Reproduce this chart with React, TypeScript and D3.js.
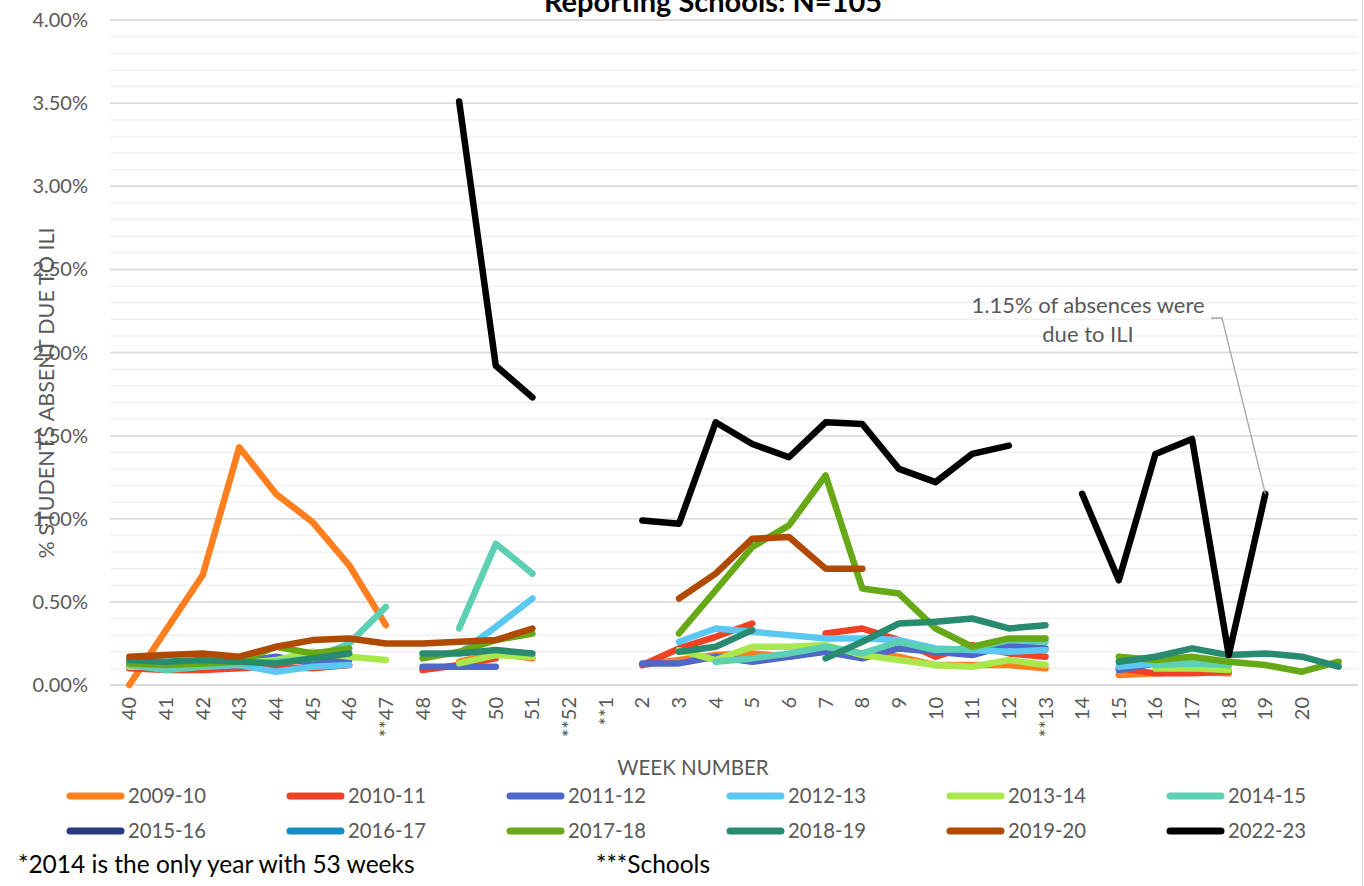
import React, { useEffect, useRef } from "react";
import * as d3 from "d3";

const _ = null;

// week labels along the x axis (last slot has no label)
const weekLabels = [
  "40", "41", "42", "43", "44", "45", "46", "**47", "48", "49", "50", "51",
  "**52", "**1", "2", "3", "4", "5", "6", "7", "8", "9", "10", "11", "12",
  "**13", "14", "15", "16", "17", "18", "19", "20", "",
];

const seasons = [
  "2009-10", "2010-11", "2011-12", "2012-13", "2013-14", "2014-15",
  "2015-16", "2016-17", "2017-18", "2018-19", "2019-20", "2022-23",
];

const seasonColors = [
  "#ff7f1f", "#f04025", "#4f67c9", "#5bc8f2", "#a8e84c", "#5dcfb2",
  "#283a80", "#118fc0", "#66a815", "#288a6f", "#b04a00", "#000000",
];

// % students absent due to ILI, one value per week slot
const s2009 = [0.0, 0.33, 0.66, 1.43, 1.15, 0.98, 0.72, 0.36, _, 0.14, 0.19, 0.16, _, _, 0.12, 0.15, 0.18, 0.19, 0.17, 0.21, 0.19, 0.17, 0.12, 0.12, 0.12, 0.1, _, 0.06, 0.07, 0.08, 0.07, _, _, _];
const s2010 = [0.1, 0.09, 0.09, 0.1, 0.11, 0.1, 0.12, _, 0.09, 0.12, 0.16, _, _, _, 0.12, 0.22, 0.29, 0.37, _, 0.31, 0.34, 0.27, 0.17, 0.24, 0.19, 0.17, _, 0.1, 0.07, 0.07, 0.08, _, _, _];
const s2011 = [0.12, 0.12, 0.13, 0.14, 0.17, 0.13, 0.15, _, 0.11, 0.11, 0.11, _, _, _, 0.13, 0.13, 0.17, 0.14, 0.17, 0.2, 0.16, 0.22, 0.2, 0.18, 0.24, 0.22, _, 0.09, 0.13, 0.16, 0.12, _, _, _];
const s2012 = [0.13, 0.11, 0.11, 0.12, 0.08, 0.11, 0.12, _, _, 0.19, 0.35, 0.52, _, _, _, 0.26, 0.34, 0.32, 0.3, 0.28, 0.28, 0.27, 0.22, 0.21, 0.2, 0.21, _, 0.11, 0.13, 0.14, 0.12, _, _, _];
const s2013 = [0.11, 0.11, 0.12, 0.13, 0.15, 0.2, 0.17, 0.15, _, 0.13, 0.18, 0.17, _, _, _, 0.21, 0.15, 0.23, 0.23, 0.24, 0.18, 0.15, 0.12, 0.11, 0.15, 0.12, _, _, 0.1, 0.1, 0.09, _, _, _];
const s2014 = [0.12, 0.09, 0.11, 0.13, 0.14, 0.16, 0.25, 0.47, _, 0.34, 0.85, 0.67, _, _, _, _, 0.14, 0.16, 0.19, 0.23, 0.19, 0.26, 0.21, 0.22, 0.27, 0.26, _, _, 0.12, 0.13, 0.12, _, _, _];
const s2015 = [_, _, _, _, _, _, _, _, _, _, _, _, _, _, _, _, _, _, _, _, _, _, _, _, _, _, _, _, _, _, _, _, _, _];
const s2016 = [_, _, _, _, _, _, _, _, _, _, _, _, _, _, _, _, _, _, _, _, _, _, _, _, _, _, _, _, _, _, _, _, _, _];
const s2017 = [0.13, 0.12, 0.13, 0.14, 0.23, 0.19, 0.22, _, 0.16, 0.2, 0.27, 0.31, _, _, _, 0.31, 0.57, 0.83, 0.96, 1.26, 0.58, 0.55, 0.34, 0.23, 0.28, 0.28, _, 0.17, 0.15, 0.17, 0.14, 0.12, 0.08, 0.14];
const s2018 = [0.15, 0.14, 0.15, 0.14, 0.13, 0.16, 0.19, _, 0.19, 0.19, 0.21, 0.19, _, _, _, 0.2, 0.23, 0.33, _, 0.16, 0.26, 0.37, 0.38, 0.4, 0.34, 0.36, _, 0.14, 0.17, 0.22, 0.18, 0.19, 0.17, 0.11];
const s2019 = [0.17, 0.18, 0.19, 0.17, 0.23, 0.27, 0.28, 0.25, 0.25, 0.26, 0.27, 0.34, _, _, _, 0.52, 0.67, 0.88, 0.89, 0.7, 0.7, _, _, _, _, _, _, _, _, _, _, _, _, _];
const s2022 = [_, _, _, _, _, _, _, _, _, 3.51, 1.92, 1.73, _, _, 0.99, 0.97, 1.58, 1.45, 1.37, 1.58, 1.57, 1.3, 1.22, 1.39, 1.44, _, 1.15, 0.63, 1.39, 1.48, 0.18, 1.15, _, _];

const seriesValues = [s2009, s2010, s2011, s2012, s2013, s2014, s2015, s2016, s2017, s2018, s2019, s2022];

const yTicks = [0, 0.5, 1, 1.5, 2, 2.5, 3, 3.5, 4];
const yMinor = d3.range(0, 4.01, 0.1);

const FONT = "Lato, 'Open Sans', sans-serif";
const GREY = "#595959";

export default function App() {
  const ref = useRef<SVGSVGElement>(null);

  useEffect(() => {
    const svg = d3.select(ref.current);
    svg.selectAll("*").remove();

    const left = 111;
    const right = 1357;
    const top = 20;
    const bottom = 685;

    const x = d3
      .scaleBand<number>()
      .domain(d3.range(weekLabels.length))
      .range([left, right]);
    const cx = (i: number) => (x(i) as number) + x.bandwidth() / 2;

    const y = d3.scaleLinear().domain([0, 4]).range([bottom, top]);

    // gridlines
    svg
      .append("g")
      .selectAll("line")
      .data(yMinor)
      .enter()
      .append("line")
      .attr("x1", left - 1)
      .attr("x2", right + 1)
      .attr("y1", (d) => y(d))
      .attr("y2", (d) => y(d))
      .attr("stroke", "#f0f0f0")
      .attr("stroke-width", 1.5);

    svg
      .append("g")
      .selectAll("line")
      .data(yTicks)
      .enter()
      .append("line")
      .attr("x1", left - 1)
      .attr("x2", right + 1)
      .attr("y1", (d) => y(d))
      .attr("y2", (d) => y(d))
      .attr("stroke", "#d9d9d9")
      .attr("stroke-width", (d) => (d === 0 ? 2 : 1.5));

    // chart border on the right
    svg
      .append("line")
      .attr("x1", 1362.5)
      .attr("x2", 1362.5)
      .attr("y1", 0)
      .attr("y2", 886)
      .attr("stroke", "#d9d9d9");

    // y tick labels
    svg
      .append("g")
      .selectAll("text")
      .data(yTicks)
      .enter()
      .append("text")
      .attr("x", 88)
      .attr("y", (d) => y(d))
      .attr("dy", "0.35em")
      .attr("text-anchor", "end")
      .attr("font-family", FONT)
      .attr("font-size", 20)
      .attr("fill", GREY)
      .text((d) => d3.format(".2f")(d) + "%");

    // x tick labels
    svg
      .append("g")
      .selectAll("text")
      .data(weekLabels)
      .enter()
      .append("text")
      .attr("transform", (_d, i) => `translate(${cx(i)},697) rotate(-90)`)
      .attr("dy", "0.35em")
      .attr("text-anchor", "end")
      .attr("font-family", FONT)
      .attr("font-size", 20)
      .attr("fill", GREY)
      .text((d) => d);

    // axis titles
    svg
      .append("text")
      .attr("transform", `translate(54,${(225 + 561) / 2}) rotate(-90)`)
      .attr("text-anchor", "middle")
      .attr("font-family", FONT)
      .attr("font-size", 21.5)
      .attr("fill", GREY)
      .text("% STUDENTS ABSENT DUE TO ILI");

    svg
      .append("text")
      .attr("x", 693)
      .attr("y", 775)
      .attr("text-anchor", "middle")
      .attr("font-family", FONT)
      .attr("font-size", 20.5)
      .attr("fill", GREY)
      .text("WEEK NUMBER");

    // title (top line is cut off)
    svg
      .append("text")
      .attr("x", 713)
      .attr("y", 12)
      .attr("text-anchor", "middle")
      .attr("font-family", FONT)
      .attr("font-weight", "bold")
      .attr("font-size", 29)
      .attr("fill", "#000")
      .text("Reporting Schools: N=105");

    // series lines
    const line = d3
      .line<number | null>()
      .defined((d) => d != null)
      .x((_d, i) => cx(i))
      .y((d) => y(d as number));

    svg
      .append("g")
      .selectAll("path")
      .data(seriesValues)
      .enter()
      .append("path")
      .attr("d", (d) => line(d))
      .attr("fill", "none")
      .attr("stroke", (_d, i) => seasonColors[i])
      .attr("stroke-width", 6.5)
      .attr("stroke-linecap", "round")
      .attr("stroke-linejoin", "round");

    // annotation
    const ax = cx(31);
    const ay = y(1.15);
    svg
      .append("polyline")
      .attr("points", `1211,318 1222,318 ${ax},${ay}`)
      .attr("fill", "none")
      .attr("stroke", "#a6a6a6")
      .attr("stroke-width", 1.3);

    const note = svg
      .append("text")
      .attr("text-anchor", "middle")
      .attr("font-family", FONT)
      .attr("font-size", 22)
      .attr("fill", GREY);
    note.append("tspan").attr("x", 1088).attr("y", 313).text("1.15% of absences were");
    note.append("tspan").attr("x", 1088).attr("y", 342).text("due to ILI");

    // legend
    const legend = svg
      .append("g")
      .selectAll("g")
      .data(seasons)
      .enter()
      .append("g")
      .attr(
        "transform",
        (_d, i) => `translate(${67 + (i % 6) * 220},${i < 6 ? 796 : 831})`
      );
    legend
      .append("line")
      .attr("x1", 3)
      .attr("x2", 54)
      .attr("stroke", (_d, i) => seasonColors[i])
      .attr("stroke-width", 7)
      .attr("stroke-linecap", "round");
    legend
      .append("text")
      .attr("x", 61)
      .attr("dy", "0.35em")
      .attr("font-family", FONT)
      .attr("font-size", 20.3)
      .attr("fill", GREY)
      .text((d) => d);

    // footnotes
    svg
      .append("text")
      .attr("x", 18)
      .attr("y", 873)
      .attr("font-family", FONT)
      .attr("font-size", 24.5)
      .attr("fill", "#000")
      .text("*2014 is the only year with 53 weeks");
    svg
      .append("text")
      .attr("x", 596)
      .attr("y", 873)
      .attr("font-family", FONT)
      .attr("font-size", 24.5)
      .attr("fill", "#000")
      .text("***Schools");
  }, []);

  return (
    <svg
      ref={ref}
      width={1364}
      height={886}
      style={{ position: "absolute", left: 0, top: 0, background: "#fff" }}
    />
  );
}
